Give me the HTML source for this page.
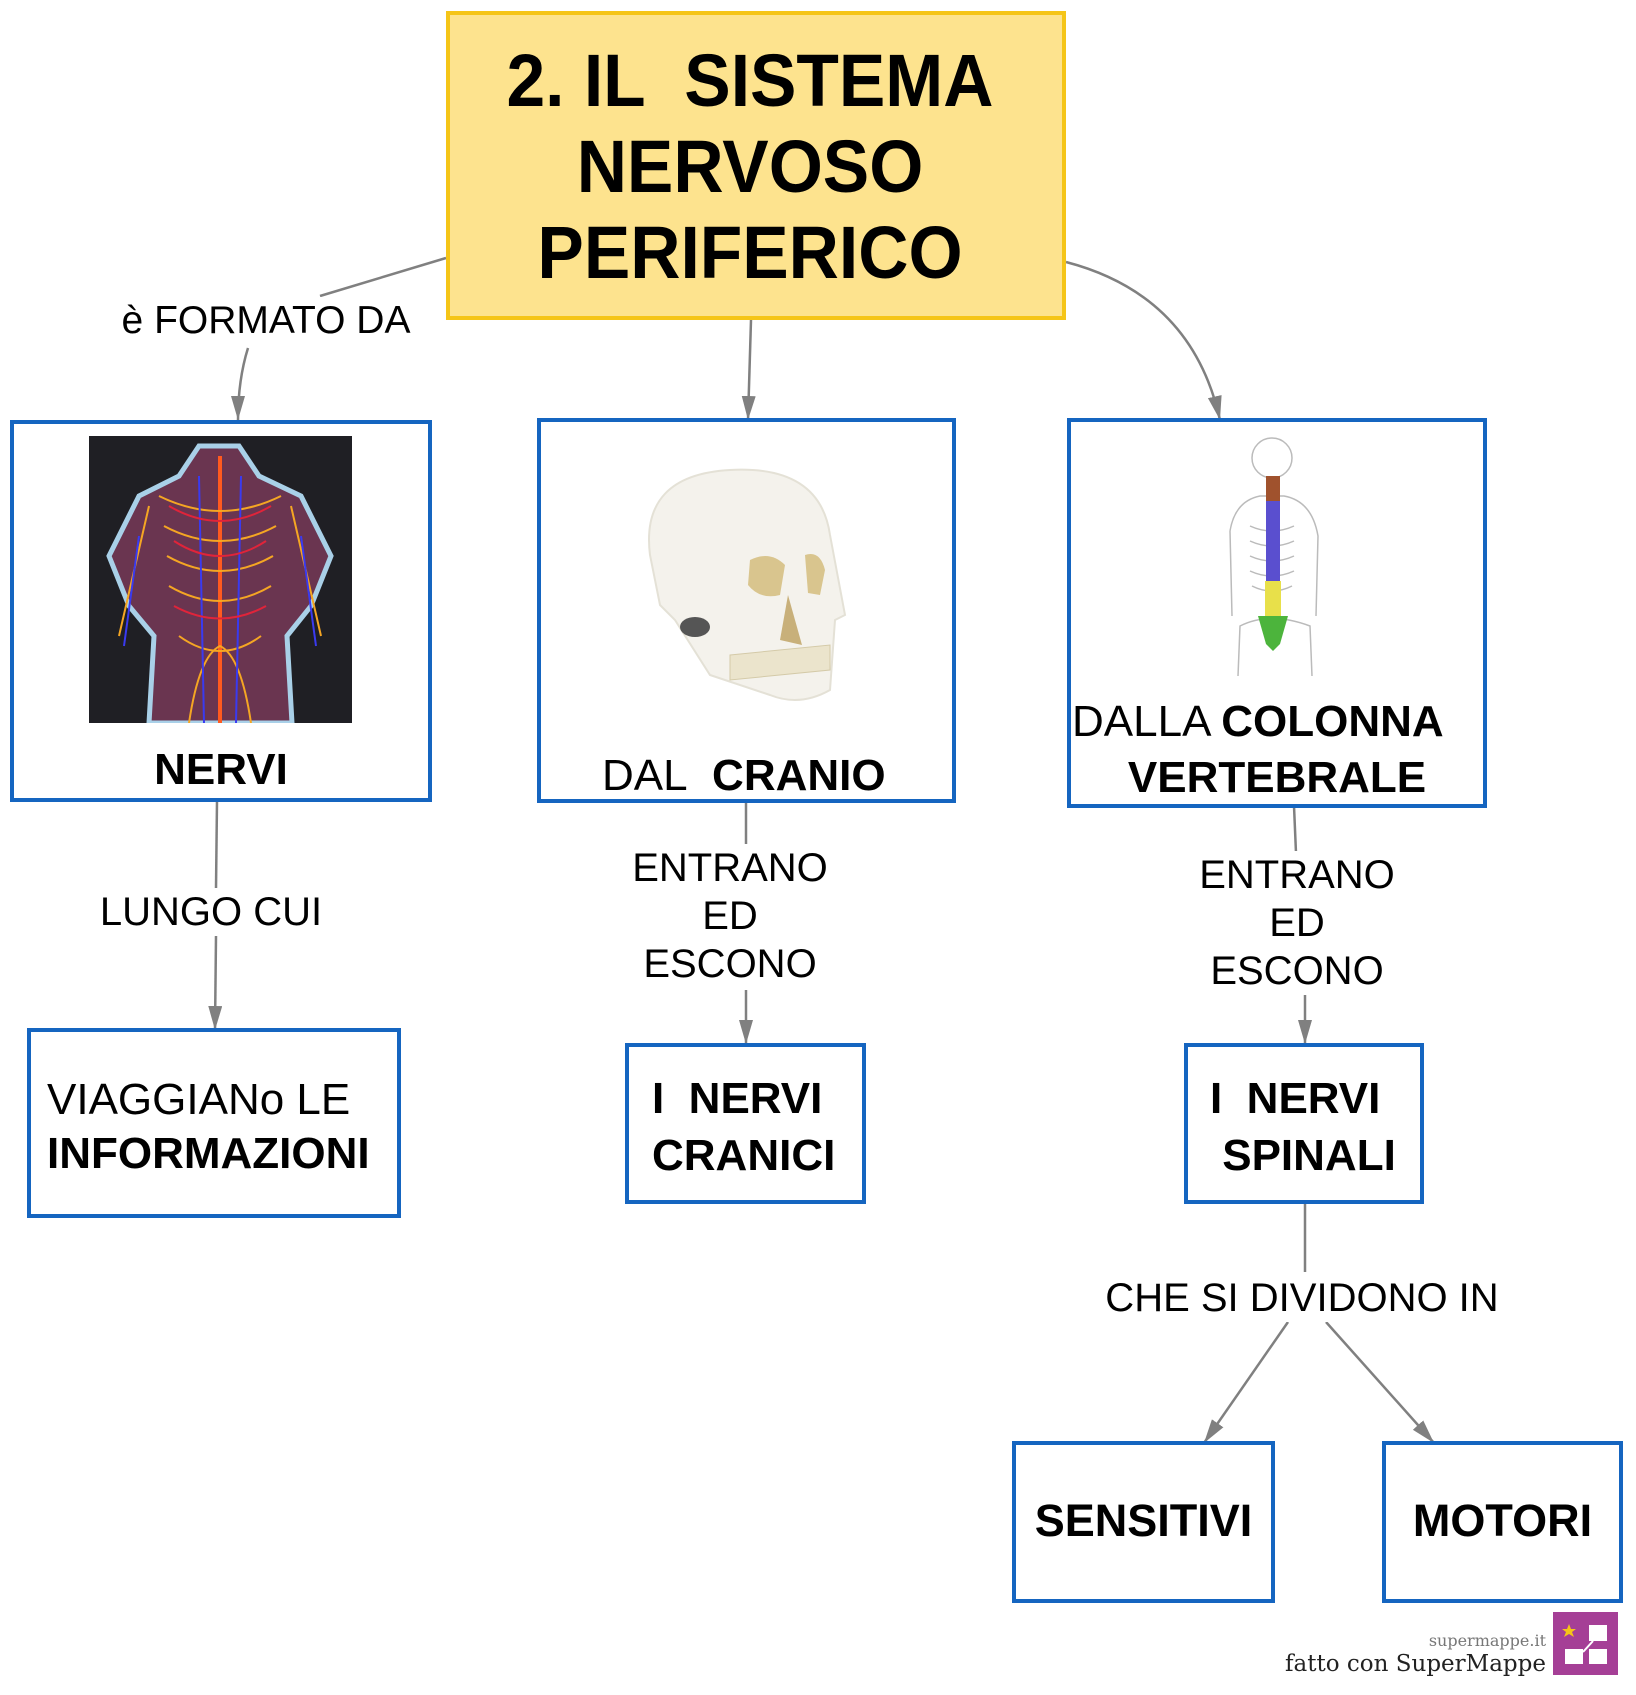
<!DOCTYPE html>
<html><head><meta charset="utf-8"><style>
body{margin:0;width:1636px;height:1695px;background:#fff;position:relative;overflow:hidden;font-family:"Liberation Sans",Arial,sans-serif;}
.b{position:absolute;box-sizing:border-box;border:4px solid #1565c0;background:#fff;}
.t{position:absolute;white-space:nowrap;color:#000;line-height:1;}
.bold{font-weight:bold;}
.lab{position:absolute;white-space:nowrap;font-size:40px;line-height:48px;text-align:center;background:#fff;transform:translateX(-50%);}
</style></head><body>
<svg width="1636" height="1695" style="position:absolute;left:0;top:0" xmlns="http://www.w3.org/2000/svg">
<defs>
<marker id="m" markerWidth="24" markerHeight="14" refX="24" refY="7" orient="auto" markerUnits="userSpaceOnUse"><path d="M0,0 L24,7 L0,14 z" fill="#808080"/></marker></defs>
<g stroke="#808080" stroke-width="2.5" fill="none">
<path d="M446,258 L320,296"/>
<path d="M248,348 Q238,380 238,420" marker-end="url(#m)"/>
<path d="M751,320 L748,420" marker-end="url(#m)"/>
<path d="M1066,262 Q1192,295 1220,420" marker-end="url(#m)"/>
<path d="M217,801 L216,888"/>
<path d="M216,936 L215,1030" marker-end="url(#m)"/>
<path d="M746,802 L746,845"/>
<path d="M746,990 L746,1044" marker-end="url(#m)"/>
<path d="M1294,806 L1296,853"/>
<path d="M1305,995 L1305,1044" marker-end="url(#m)"/>
<path d="M1305,1204 L1305,1272"/>
<path d="M1288,1322 L1204,1443" marker-end="url(#m)"/>
<path d="M1326,1322 L1434,1443" marker-end="url(#m)"/>
</g>
</svg>

<div style="position:absolute;left:446px;top:11px;width:620px;height:309px;box-sizing:border-box;border:4px solid #f5c518;background:#fde38e;"></div>
<div class="t bold" style="left:440px;width:620px;top:38px;text-align:center;font-size:74px;line-height:86px;transform:scaleX(0.94);">2. IL&nbsp; SISTEMA<br>NERVOSO<br>PERIFERICO</div>

<div class="lab" style="left:266px;top:297px;font-size:39px;">è FORMATO DA</div>

<!-- NERVI box -->
<div class="b" style="left:10px;top:420px;width:422px;height:382px;"></div>
<svg style="position:absolute;left:89px;top:436px" width="263" height="287" viewBox="0 0 263 287">
<rect width="263" height="287" fill="#1f1f24"/>
<path d="M60,287 L65,200 L40,170 L20,120 L50,60 L90,40 L110,10 L150,10 L170,40 L212,60 L242,120 L222,170 L198,200 L203,287 Z" fill="#6a3550" stroke="#a9d0e8" stroke-width="5"/>
<path d="M131,20 L131,287" stroke="#ff5a1f" stroke-width="4"/>
<g stroke="#f5a623" stroke-width="2" fill="none">
<path d="M70,60 Q131,90 192,60 M75,90 Q131,120 187,90 M78,120 Q131,150 184,120 M80,150 Q131,180 182,150 M90,200 Q131,230 172,200 M100,287 Q110,220 131,210 Q152,220 162,287"/>
<path d="M60,70 L30,200 M202,70 L232,200"/>
</g>
<g stroke="#3a3af0" stroke-width="2" fill="none"><path d="M110,40 L115,287 M152,40 L147,287 M50,100 L35,210 M212,100 L227,210"/></g>
<g stroke="#e0243a" stroke-width="2" fill="none"><path d="M80,70 Q131,100 182,70 M85,105 Q131,135 177,105 M85,170 Q131,195 177,170"/></g>
</svg>
<div class="t bold" style="left:10px;width:422px;top:748px;text-align:center;font-size:44px;">NERVI</div>

<!-- CRANIO box -->
<div class="b" style="left:537px;top:418px;width:419px;height:385px;"></div>
<svg style="position:absolute;left:620px;top:445px" width="250" height="280" viewBox="0 0 250 280">
<path d="M30,110 Q20,30 110,25 Q200,20 210,90 L225,170 L215,175 L210,245 Q180,262 150,250 L90,230 L55,175 L40,160 Z" fill="#f4f2ec" stroke="#e4e1d6" stroke-width="2"/>
<path d="M130,115 Q150,105 165,120 L160,150 Q140,155 128,140 Z" fill="#d9c58e"/>
<path d="M185,110 Q200,105 205,125 L200,150 L188,148 Z" fill="#d9c58e"/>
<path d="M168,150 L182,200 L160,195 Z" fill="#c8b07a"/>
<ellipse cx="75" cy="182" rx="15" ry="10" fill="#555"/>
<path d="M110,210 L210,200 L210,225 L110,235 Z" fill="#ebe4cc" stroke="#d4caa8"/>
</svg>
<div class="t" style="left:602px;top:754px;font-size:44px;">DAL&nbsp; <b>CRANIO</b></div>

<!-- COLONNA box -->
<div class="b" style="left:1067px;top:418px;width:420px;height:390px;"></div>
<svg style="position:absolute;left:1220px;top:436px" width="110" height="240" viewBox="0 0 110 240">
<g fill="none" stroke="#bbb" stroke-width="1.5">
<ellipse cx="52" cy="22" rx="20" ry="20"/>
<path d="M10,95 Q15,65 40,60 L64,60 Q92,65 98,100 L96,180 M10,95 L12,180 M18,240 L20,190 Q50,175 90,190 L92,240"/>
<path d="M30,90 Q52,100 74,90 M30,105 Q52,115 74,105 M30,120 Q52,130 74,120 M30,135 Q52,145 74,135 M32,150 Q52,160 72,150"/>
</g>
<rect x="46" y="40" width="14" height="25" fill="#a0522d"/>
<rect x="46" y="65" width="14" height="80" fill="#5a4fcf"/>
<rect x="45" y="145" width="16" height="35" fill="#e8e04a"/>
<path d="M38,180 L68,180 L60,208 L53,215 L46,208 Z" fill="#4cb43c"/>
</svg>
<div class="t" style="left:1072px;top:700px;font-size:44px;">DALLA <b>COLONNA</b></div>
<div class="t bold" style="left:1067px;width:420px;text-align:center;top:756px;font-size:44px;">VERTEBRALE</div>

<div class="lab" style="left:211px;top:888px;">LUNGO CUI</div>
<div class="lab" style="left:730px;top:844px;line-height:48px;">ENTRANO<br>ED<br>ESCONO</div>
<div class="lab" style="left:1297px;top:851px;line-height:48px;">ENTRANO<br>ED<br>ESCONO</div>
<div class="lab" style="left:1302px;top:1274px;">CHE SI DIVIDONO IN</div>

<div class="b" style="left:27px;top:1028px;width:374px;height:190px;"></div>
<div class="t" style="left:47px;top:1073px;font-size:44px;line-height:54px;">VIAGGIANo LE<br><b>INFORMAZIONI</b></div>

<div class="b" style="left:625px;top:1043px;width:241px;height:161px;"></div>
<div class="t bold" style="left:652px;top:1070px;font-size:44px;line-height:57px;">I&nbsp; NERVI<br>CRANICI</div>

<div class="b" style="left:1184px;top:1043px;width:240px;height:161px;"></div>
<div class="t bold" style="left:1210px;top:1070px;font-size:44px;line-height:57px;">I&nbsp; NERVI<br>&nbsp;SPINALI</div>

<div class="b" style="left:1012px;top:1441px;width:263px;height:162px;"></div>
<div class="t bold" style="left:1012px;width:263px;text-align:center;top:1498px;font-size:45px;">SENSITIVI</div>

<div class="b" style="left:1382px;top:1441px;width:241px;height:162px;"></div>
<div class="t bold" style="left:1382px;width:241px;text-align:center;top:1498px;font-size:45px;">MOTORI</div>

<div class="t" style="right:90px;top:1633px;font-size:16px;color:#777;font-family:'DejaVu Serif',serif;">supermappe.it</div>
<div class="t" style="right:90px;top:1653px;font-size:23px;color:#222;font-family:'DejaVu Serif',serif;">fatto con SuperMappe</div>
<svg style="position:absolute;left:1553px;top:1612px" width="65" height="63" viewBox="0 0 65 63">
<rect width="65" height="63" fill="#a53f96"/>
<polygon points="16,12 18,17 23,17 19,20 21,25 16,22 11,25 13,20 9,17 14,17" fill="#f5c518"/>
<rect x="36" y="13" width="18" height="16" fill="#fff"/>
<rect x="12" y="37" width="18" height="15" fill="#fff"/>
<rect x="36" y="37" width="18" height="15" fill="#fff"/>
<path d="M30,40 L40,29" stroke="#fff" stroke-width="2"/>
</svg>
</body></html>
